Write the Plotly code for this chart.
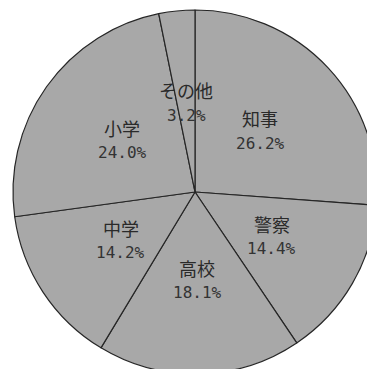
import math
import plotly.graph_objects as go

labels = ["知事", "警察", "高校", "中学", "小学", "その他"]
values = [26.2, 14.4, 18.1, 14.2, 24.0, 3.2]

W, H = 390, 384
CX, CY = 195, 192
R = 182
LABEL_R = 89

fig = go.Figure(go.Pie(
    labels=labels,
    values=values,
    sort=False,
    direction="clockwise",
    rotation=0,
    textinfo="none",
    hoverinfo="skip",
    showlegend=False,
    marker=dict(colors=["#a8a8a8"] * len(values), line=dict(color="#262626", width=1.2)),
    domain=dict(x=[0, 1], y=[(H - CY - R) / H, (H - CY + R) / H]),
))

total = sum(values)
cum = 0.0
annotations = []
for lab, v in zip(labels, values):
    mid = (cum + v / 2) / total * 2 * math.pi
    cum += v
    px = CX + LABEL_R * math.sin(mid)
    py = CY - LABEL_R * math.cos(mid)
    xp = px / W
    yp = 1 - py / H
    annotations.append(dict(x=xp, y=yp, xref="paper", yref="paper", text=lab,
                            showarrow=False, yshift=13, xanchor="center", yanchor="middle",
                            font=dict(family="Noto Sans CJK JP", size=18, color="#2a2a2a")))
    annotations.append(dict(x=xp, y=yp, xref="paper", yref="paper", text=f"{v:.1f}%",
                            showarrow=False, yshift=-12, xanchor="center", yanchor="middle",
                            font=dict(family="DejaVu Sans Mono", size=16, color="#333333")))

fig.update_layout(
    width=W, height=H,
    margin=dict(l=0, r=0, t=0, b=0),
    paper_bgcolor="white",
    plot_bgcolor="white",
    annotations=annotations,
)

fig.write_html("out.html", config={"displayModeBar": False},
               post_script="document.body.style.margin='0';document.body.style.overflow='hidden';")
